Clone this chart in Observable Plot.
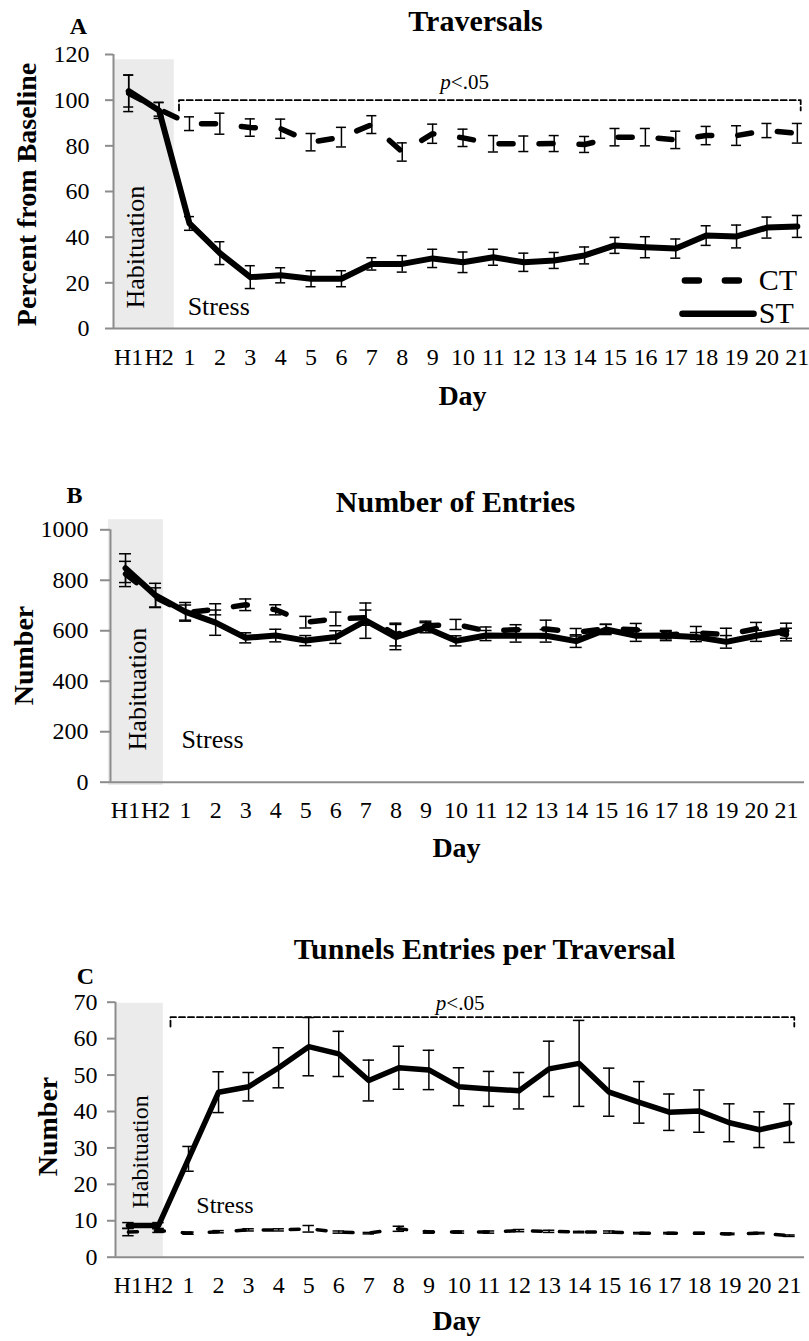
<!DOCTYPE html>
<html>
<head>
<meta charset="utf-8">
<script src="https://cdn.jsdelivr.net/npm/d3@7"></script>
<script src="https://cdn.jsdelivr.net/npm/@observablehq/plot@0.6"></script>
<style>
  html, body { margin: 0; padding: 0; background: #fff; }
  #wrap { width: 809px; }
  #wrap svg { display: block; }
  #wrap svg text { font-family: "Liberation Serif", "Times New Roman", serif !important; }
</style>
</head>
<body>
<div id="wrap"></div>
<script>
// ---------- data ----------
const dayLabels = ["H1","H2","1","2","3","4","5","6","7","8","9","10","11","12","13","14","15","16","17","18","19","20","21"];

// A: Traversals (percent from baseline)
const traversalsST    = [104, 95.5, 46, 33, 22.5, 23.3, 21.8, 21.8, 28.3, 28.3, 30.7, 29, 31.2, 29, 29.8, 32, 36.4, 35.6, 35, 40.7, 40.3, 44.2, 44.7];
const traversalsSTErr = [7, 3.5, 3, 5, 5, 3.3, 3.5, 3.5, 2.7, 3.6, 4, 4.5, 3.5, 4, 3.5, 3.7, 3.5, 4.6, 4.2, 4.3, 5, 4.6, 4.8];
const traversalsCT    = [103, 96, 89.7, 89.7, 88, 87.5, 81.6, 83.8, 89.3, 77.3, 85.3, 83.5, 80.9, 80.9, 81, 80.6, 83.8, 83.8, 82.6, 84.5, 84.5, 86.7, 85.5];
const traversalsCTErr = [8, 3, 3, 4.6, 3.8, 4.2, 3.8, 4.3, 3.9, 4, 4.2, 3.8, 3.6, 3.4, 3.5, 3.5, 3.8, 3.8, 3.8, 4, 4.3, 3.1, 4.3];

// B: Number of entries
const entriesST    = [848, 740, 675, 632, 572, 581, 561, 575, 640, 575, 612, 560, 581, 580, 580, 559, 605, 580, 581, 575, 556, 580, 600];
const entriesSTErr = [57, 48, 37, 50, 20, 25, 20, 25, 70, 50, 20, 20, 20, 25, 25, 25, 20, 22, 20, 18, 25, 22, 30];
const entriesCT    = [825, 732, 672, 685, 703, 683, 634, 647, 652, 585, 620, 625, 600, 604, 607, 594, 608, 604, 583, 592, 585, 608, 585];
const entriesCTErr = [50, 38, 30, 22, 23, 20, 23, 27, 30, 45, 18, 20, 15, 20, 35, 15, 18, 25, 15, 25, 25, 25, 25];

// C: Tunnel entries per traversal
const tunnelsST    = [8.7, 8.7, 27, 45.3, 46.8, 52, 57.8, 55.8, 48.5, 52, 51.4, 46.8, 46.2, 45.7, 51.7, 53.2, 45.3, 42.5, 39.8, 40.1, 36.9, 35, 36.8];
const tunnelsSTErr = [0.8, 0.8, 3.4, 5.6, 3.9, 5.5, 8, 6.2, 5.6, 5.9, 5.4, 5.2, 4.8, 5, 7.6, 11.8, 6.6, 5.7, 5, 5.8, 5.2, 4.9, 5.3];
const tunnelsCT    = [6.9, 7.3, 6.6, 7.0, 7.5, 7.5, 7.8, 6.9, 6.6, 7.8, 6.9, 6.9, 6.9, 7.3, 7.1, 6.9, 6.9, 6.6, 6.6, 6.6, 6.4, 6.6, 5.9];
const tunnelsCTErr = [1, 0.5, 0.3, 0.3, 0.3, 0.3, 0.9, 0.3, 0.2, 0.7, 0.3, 0.3, 0.3, 0.3, 0.3, 0.2, 0.3, 0.2, 0.2, 0.2, 0.2, 0.2, 0.2];

const ticksA = [0, 20, 40, 60, 80, 100, 120];
const ticksB = [0, 200, 400, 600, 800, 1000];
const ticksC = [0, 10, 20, 30, 40, 50, 60, 70];

const seriesNames = ["CT", "ST"];

// ---------- rendering ----------
const FONT = '"Liberation Serif", "Times New Roman", serif';
const AXIS = "#8c8c8c";

function panel(c) {
  const L = c.layout;
  const st = dayLabels.map((_, i) => ({i, v: c.st[i], e: c.stErr[i]}));
  const ct = dayLabels.map((_, i) => ({i, v: c.ct[i], e: c.ctErr[i]}));
  const at = (cx, cy) => ({dx: cx - L.ml, dy: cy - L.mt});
  const errBars = rows => [
    Plot.ruleX(rows, {x: "i", y1: d => d.v - d.e, y2: d => d.v + d.e, stroke: "black", strokeWidth: 1.5}),
    Plot.ruleY(rows, {y: d => d.v + d.e, x1: d => d.i - L.cap, x2: d => d.i + L.cap, stroke: "black", strokeWidth: 1.5}),
    Plot.ruleY(rows, {y: d => d.v - d.e, x1: d => d.i - L.cap, x2: d => d.i + L.cap, stroke: "black", strokeWidth: 1.5})
  ];
  const txt = (s, pos, opts) => Plot.text([s], {
    frameAnchor: "top-left", text: d => d, textAnchor: "middle", lineAnchor: "middle",
    fill: "black", fontFamily: FONT, ...at(pos[0], pos[1]), ...opts
  });

  const marks = [
    Plot.rect([L.hab], {x1: "x1", x2: "x2", y1: "y1", y2: "y2", fill: "#ebebeb"}),
    Plot.ruleX([{x: L.xDomain[0], y1: 0, y2: c.yDomain[1]}], {x: "x", y1: "y1", y2: "y2", stroke: AXIS, strokeWidth: 2}),
    Plot.ruleY([0], {stroke: AXIS, strokeWidth: 2}),
    Plot.axisY({ticks: c.yTicks, tickFormat: d => String(d), tickSize: L.tickSize, tickPadding: L.tickPad,
                stroke: AXIS, strokeWidth: 2, fill: "black", label: null, fontSize: 24, fontFamily: FONT}),
    Plot.text(dayLabels, {x: (d, i) => i, text: d => d, frameAnchor: "bottom", dy: L.xLabDy,
                          textAnchor: "middle", lineAnchor: "middle", fontSize: 24, fontFamily: FONT, fill: "black"}),
    // annotations
    Plot.text([{x: L.stress[0], y: L.stress[1]}], {x: "x", y: "y", text: () => "Stress", textAnchor: "start",
                lineAnchor: "middle", fontSize: L.annoSize, fontFamily: FONT, fill: "black"}),
    Plot.text([{x: L.habText[0], y: L.habText[1]}], {x: "x", y: "y", text: () => "Habituation", rotate: -90,
                textAnchor: "middle", lineAnchor: "middle", fontSize: L.annoSize, fontFamily: FONT, fill: "black"}),
    // titles and axis labels
    txt(c.title, L.titlePos, {fontSize: 30, fontWeight: "bold"}),
    txt(c.letter, L.letterPos, {fontSize: 24, fontWeight: "bold"}),
    txt(c.yLabel, L.yLabPos, {fontSize: 28, fontWeight: "bold", rotate: -90}),
    txt("Day", L.dayPos, {fontSize: 28, fontWeight: "bold"})
  ];

  if (L.bracket) {
    const b = L.bracket;
    marks.push(
      Plot.line([{x: b.x1, y: b.yEnd}, {x: b.x1, y: b.y}, {x: b.x2, y: b.y}, {x: b.x2, y: b.yEnd}],
                {x: "x", y: "y", stroke: "black", strokeWidth: 1.8, strokeDasharray: "6,3"}),
      Plot.text([{x: b.px, y: b.py}], {x: "x", y: "y", text: () => "p", textAnchor: "end", lineAnchor: "middle",
                fontSize: 21, fontStyle: "italic", fontFamily: FONT, fill: "black"}),
      Plot.text([{x: b.px, y: b.py}], {x: "x", y: "y", text: () => "<.05", textAnchor: "start", lineAnchor: "middle",
                fontSize: 21, fontFamily: FONT, fill: "black"})
    );
  }

  marks.push(
    ...errBars(ct),
    Plot.line(ct, {x: "i", y: "v", stroke: "black", strokeWidth: L.ctWidth, strokeDasharray: L.ctDash,
                   strokeLinecap: "round", strokeLinejoin: "round"}),
    ...errBars(st),
    Plot.line(st, {x: "i", y: "v", stroke: "black", strokeWidth: L.stWidth, strokeLinejoin: "round"})
  );

  if (L.legend) {
    const g = L.legend;
    marks.push(
      Plot.line([{x: g.ctX1, y: g.ctY}, {x: g.ctX2, y: g.ctY}], {x: "x", y: "y", stroke: "black", strokeWidth: 6.5,
                 strokeDasharray: "14,26", strokeLinecap: "round"}),
      Plot.line([{x: g.stX1, y: g.stY}, {x: g.stX2, y: g.stY}], {x: "x", y: "y", stroke: "black", strokeWidth: 6.5}),
      Plot.text([{x: g.textX, y: g.ctY, t: seriesNames[0]}, {x: g.textX, y: g.stY, t: seriesNames[1]}],
                {x: "x", y: "y", text: "t", textAnchor: "start", lineAnchor: "middle", fontSize: 30,
                 fontFamily: FONT, fill: "black"})
    );
  }

  return Plot.plot({
    width: 809, height: L.height,
    marginLeft: L.ml, marginRight: L.mr, marginTop: L.mt, marginBottom: L.mb,
    style: {fontFamily: FONT, fontSize: "24px", color: "black", background: "white", overflow: "visible"},
    x: {type: "linear", domain: L.xDomain, axis: null},
    y: {type: "linear", domain: c.yDomain},
    marks
  });
}

const panels = [
  {
    title: "Traversals", letter: "A", yLabel: "Percent from Baseline",
    st: traversalsST, stErr: traversalsSTErr, ct: traversalsCT, ctErr: traversalsCTErr,
    yDomain: [0, 120], yTicks: ticksA,
    layout: {
      height: 430, ml: 113, mr: 0, mt: 54, mb: 102, xDomain: [-0.5, 22.4],
      tickSize: 8, tickPad: 16, xLabDy: 29, cap: 0.165,
      hab: {x1: -0.5, x2: 1.5, y1: 0, y2: 117.7},
      stress: [1.94, 9.6], habText: [0.22, 35.6], annoSize: 26,
      titlePos: [475, 21], letterPos: [78, 26], yLabPos: [27, 194], dayPos: [462, 396],
      ctWidth: 5.5, ctDash: "14,26", stWidth: 6,
      bracket: {x1: 1.655, x2: 22.11, y: 100, yEnd: 95.5, px: 10.6, py: 107.7},
      legend: {ctX1: 18.30, ctX2: 20.18, ctY: 21.0, stX1: 18.22, stX2: 20.56, stY: 6.44, textX: 20.73}
    }
  },
  {
    title: "Number of Entries", letter: "B", yLabel: "Number",
    st: entriesST, stErr: entriesSTErr, ct: entriesCT, ctErr: entriesCTErr,
    yDomain: [0, 1000], yTicks: ticksB,
    layout: {
      height: 430, ml: 110, mr: 5, mt: 99.3, mb: 78.3, xDomain: [-0.5, 22.6],
      tickSize: 10, tickPad: 12, xLabDy: 28.3, cap: 0.2,
      hab: {x1: -0.57, x2: 1.26, y1: -13, y2: 1040},
      stress: [1.86, 169], habText: [0.39, 369], annoSize: 26,
      titlePos: [455, 72], letterPos: [74, 65], yLabPos: [24, 225], dayPos: [456, 418],
      ctWidth: 5.5, ctDash: "14,26", stWidth: 6
    }
  },
  {
    title: "Tunnels Entries per Traversal", letter: "C", yLabel: "Number",
    st: tunnelsST, stErr: tunnelsSTErr, ct: tunnelsCT, ctErr: tunnelsCTErr,
    yDomain: [0, 70], yTicks: ticksC,
    layout: {
      height: 481, ml: 115, mr: 5, mt: 141.7, mb: 84.3, xDomain: [-0.43, 22.5],
      tickSize: 8, tickPad: 10, xLabDy: 28.3, cap: 0.19,
      hab: {x1: -0.4, x2: 1.16, y1: 0, y2: 69.7},
      stress: [2.26, 14.2], habText: [0.38, 28.9], annoSize: 24,
      titlePos: [484, 89], letterPos: [85, 116], yLabPos: [48, 266], dayPos: [456, 461],
      ctWidth: 3.5, ctDash: "9,18", stWidth: 5.5,
      bracket: {x1: 1.4, x2: 22.16, y: 65.9, yEnd: 63.3, px: 10.58, py: 69.6}
    }
  }
];

const wrap = document.getElementById("wrap");
for (const p of panels) wrap.appendChild(panel(p));
</script>
</body>
</html>
